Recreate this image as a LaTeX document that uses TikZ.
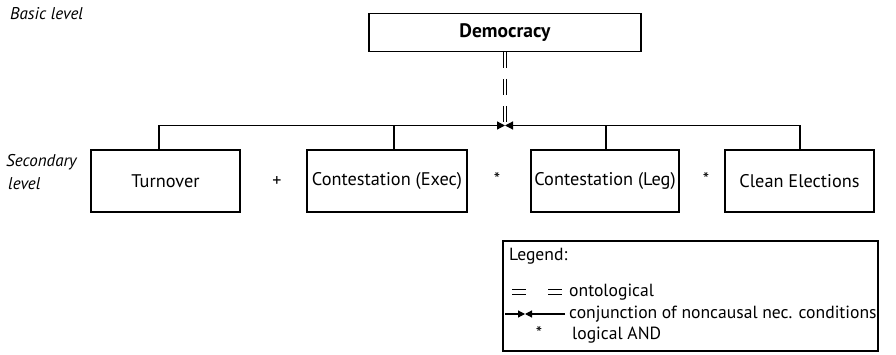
\documentclass[tikz,border=0pt]{standalone}
\usepackage{fontspec}
\setmainfont{PT Sans}
\usetikzlibrary{arrows.meta}

\tikzset{
  concept/.style={draw, line width=1.2pt, inner sep=0pt, minimum height=62pt, font=\fontsize{18.3}{21}\selectfont},
  levellabel/.style={anchor=west, inner sep=0pt, font=\fontsize{17}{20}\selectfont\itshape},
  oper/.style={inner sep=0pt, font=\fontsize{18}{21}\selectfont},
  legtext/.style={anchor=west, inner sep=0pt, font=\fontsize{17.6}{20}\selectfont},
  onto/.style={double, double distance=2.8pt, line width=1pt},
  nec/.style={line width=1.2pt, -{Triangle[length=8pt,width=8pt]}}
}

\begin{document}
\begin{tikzpicture}[x=1pt,y=-1pt]
\useasboundingbox (0,0) rectangle (896,355);

% Levels
\node[levellabel] (basic) at (10,14) {Basic level};
\node[levellabel] (second) at (6,162) {Secondary};
\node[levellabel] (secondb) at (8,184) {level};

% Basic level concept
\node[concept, minimum width=272pt, minimum height=37.5pt, font=\fontsize{19.5}{22}\selectfont\bfseries] (demo) at (505,32.5) {Democracy};

% Secondary level concepts
\node[concept, minimum width=149pt] (turn) at (165.5,181) {Turnover};
\node[concept, minimum width=160pt] (exec) at (387,181) {Contestation (Exec)};
\node[concept, minimum width=148pt] (leg) at (605,181) {Contestation (Leg)};
\node[concept, minimum width=149pt] (clean) at (799.5,181) {Clean Elections};

\node[oper] (plus) at (277,182) {+};
\node[oper] (andA) at (497,179) {*};
\node[oper] (andB) at (706,179) {*};

% Structure
\coordinate (junc) at (505,125.5);
\draw[onto, dash pattern=on 16pt off 11pt] (demo.south) -- (junc);
\draw[nec] ([xshift=-6.5pt]turn.north) |- (junc);
\draw[nec] ([xshift=0.5pt]clean.north) |- (junc);
\draw[line width=1.2pt] ([xshift=7pt]exec.north) -- ([xshift=7pt]exec.north |- junc);
\draw[line width=1.2pt] ([xshift=1pt]leg.north) -- ([xshift=1pt]leg.north |- junc);

% Legend
\node[draw, line width=1.2pt, minimum width=375pt, minimum height=110pt, inner sep=0pt] (legend) at (690.5,296) {};
\node[legtext] (legtitle) at (509,256) {Legend:};
\coordinate (ontoA) at (512,292);
\coordinate (ontoB) at (566,292);
\draw[onto, line width=1.3pt, double distance=3.2pt, dash pattern=on 14pt off 22pt] (ontoA) -- (ontoB);
\node[legtext] (ontotext) at (569,292) {ontological};
\coordinate (necA) at (505,314);
\coordinate (necM) at (525,314);
\coordinate (necB) at (565,314);
\draw[nec, -{Triangle[length=7pt,width=7pt]}] (necA) -- (necM);
\draw[nec, -{Triangle[length=7pt,width=7pt]}] (necB) -- (necM);
\node[legtext] (nectext) at (569,314) {conjunction of noncausal nec. conditions};
\node[oper] (andC) at (539,333) {*};
\node[legtext] (andtext) at (572,335) {logical AND};
\end{tikzpicture}
\end{document}
